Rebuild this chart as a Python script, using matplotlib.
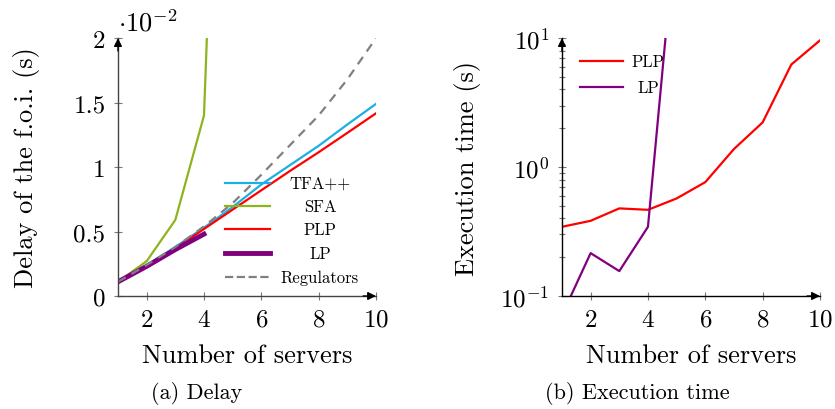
import matplotlib
matplotlib.use("Agg")
import matplotlib.pyplot as plt
from matplotlib.ticker import FixedLocator, LogLocator, NullFormatter

plt.rcParams['font.family'] = 'serif'
plt.rcParams['font.serif'] = ['cmr10']
plt.rcParams['mathtext.fontset'] = 'cm'
plt.rcParams['axes.formatter.use_mathtext'] = True

# servers on the x axis
servers = [1, 2, 3, 4, 5, 6, 7, 8, 9, 10]

# (a) delay of the f.o.i., in units of 1e-2 s
delay_tfa = [0.11, 0.24, 0.38, 0.53, 0.69, 0.865, 1.015, 1.165, 1.33, 1.49]
delay_sfa = [0.11, 0.27, 0.59, 1.40, 7.4]
delay_plp = [0.11, 0.235, 0.37, 0.52, 0.67, 0.82, 0.97, 1.115, 1.265, 1.417]
delay_lp = [0.11, 0.23, 0.36, 0.48]
delay_reg = [0.11, 0.24, 0.38, 0.54, 0.72, 0.94, 1.17, 1.40, 1.68, 2.0]

# (b) execution time (s)
time_plp = [0.344, 0.383, 0.478, 0.466, 0.571, 0.764, 1.38, 2.22, 6.24, 9.6]
time_lp = [0.071, 0.215, 0.156, 0.344, 85.0]

CYAN = '#1aafe6'
LIME = '#8db41e'
RED = '#ff0000'
PURPLE = '#800080'
GRAY = '#808080'


def style_axes(ax, color):
    """pgfplots-like axis lines: left/bottom only, with arrow heads"""
    for side in ['top', 'right']:
        ax.spines[side].set_visible(False)
    for side in ['left', 'bottom']:
        ax.spines[side].set_color(color)
        ax.spines[side].set_linewidth(1.0)
    arrow = dict(arrowstyle='-|>', color='black', lw=1.0, mutation_scale=12,
                 shrinkA=0, shrinkB=0)
    ax.annotate('', xy=(1, 0), xytext=(0.95, 0), xycoords='axes fraction',
                arrowprops=arrow, annotation_clip=False)
    ax.annotate('', xy=(0, 1), xytext=(0, 0.95), xycoords='axes fraction',
                arrowprops=arrow, annotation_clip=False)
    ax.tick_params(which='both', direction='inout', color='#777777',
                   labelsize=18, length=6, width=0.8, pad=6)
    ax.tick_params(which='minor', length=4)


def draw_key(ax, lines, labels, x0, x1, xtext, ys, fontsize):
    """legend in pgfplots style: sample line, then label centred in its column"""
    for line, label, y in zip(lines, labels, ys):
        ax.plot([x0, x1], [y, y], transform=ax.transAxes, clip_on=False,
                color=line.get_color(), lw=line.get_linewidth(),
                ls=line.get_linestyle())
        ax.text(xtext, y, label, transform=ax.transAxes, fontsize=fontsize,
                ha='center', va='center')


fig = plt.figure(figsize=(8.35, 4.1), dpi=100)

# ---- (a) Delay ----
ax1 = fig.add_axes([0.1413, 0.2756, 0.309, 0.629])
l_tfa, = ax1.plot(servers, delay_tfa, color=CYAN, lw=1.6)
l_sfa, = ax1.plot(servers[:len(delay_sfa)], delay_sfa, color=LIME, lw=1.6)
l_plp, = ax1.plot(servers, delay_plp, color=RED, lw=1.6)
l_lp, = ax1.plot(servers[:len(delay_lp)], delay_lp, color=PURPLE, lw=3.5)
l_reg, = ax1.plot(servers, delay_reg, color=GRAY, lw=1.6, ls=(0, (4, 3)))
ax1.set_xlim(1, 10)
ax1.set_ylim(0, 2)
ax1.xaxis.set_major_locator(FixedLocator([2, 4, 6, 8, 10]))
ax1.yaxis.set_major_locator(FixedLocator([0, 0.5, 1, 1.5, 2]))
ax1.set_yticklabels(['0', '0.5', '1', '1.5', '2'])
style_axes(ax1, '#444444')
ax1.set_xlabel('Number of servers', fontsize=19, labelpad=9)
ax1.set_ylabel('Delay of the f.o.i. (s)', fontsize=19, labelpad=24)
ax1.text(0.0, 1.01, r'$\cdot 10^{-2}$', transform=ax1.transAxes,
         fontsize=19, ha='left', va='bottom')
draw_key(ax1, [l_tfa, l_sfa, l_plp, l_lp, l_reg],
         ['TFA++', 'SFA', 'PLP', 'LP', 'Regulators'],
         0.415, 0.589, 0.783, [0.438, 0.349, 0.260, 0.167, 0.074], 12)
fig.text(0.235, 0.012, '(a) Delay', fontsize=16, ha='center', va='bottom')

# ---- (b) Execution time ----
ax2 = fig.add_axes([0.673, 0.2756, 0.309, 0.629])
r_plp, = ax2.plot(servers, time_plp, color=RED, lw=1.6)
r_lp, = ax2.plot(servers[:len(time_lp)], time_lp, color=PURPLE, lw=1.6)
ax2.set_yscale('log')
ax2.set_xlim(1, 10)
ax2.set_ylim(0.1, 10)
ax2.xaxis.set_major_locator(FixedLocator([2, 4, 6, 8, 10]))
ax2.yaxis.set_major_locator(LogLocator(base=10, numticks=5))
ax2.yaxis.set_minor_locator(LogLocator(base=10, subs=range(2, 10), numticks=10))
ax2.yaxis.set_minor_formatter(NullFormatter())
style_axes(ax2, 'black')
ax2.set_xlabel('Number of servers', fontsize=19, labelpad=9)
ax2.set_ylabel('Execution time (s)', fontsize=19, labelpad=14)
draw_key(ax2, [r_plp, r_lp], ['PLP', 'LP'],
         0.070, 0.236, 0.333, [0.911, 0.810], 12)
fig.text(0.763, 0.012, '(b) Execution time', fontsize=16, ha='center', va='bottom')

fig.savefig('out.png', dpi=100)
